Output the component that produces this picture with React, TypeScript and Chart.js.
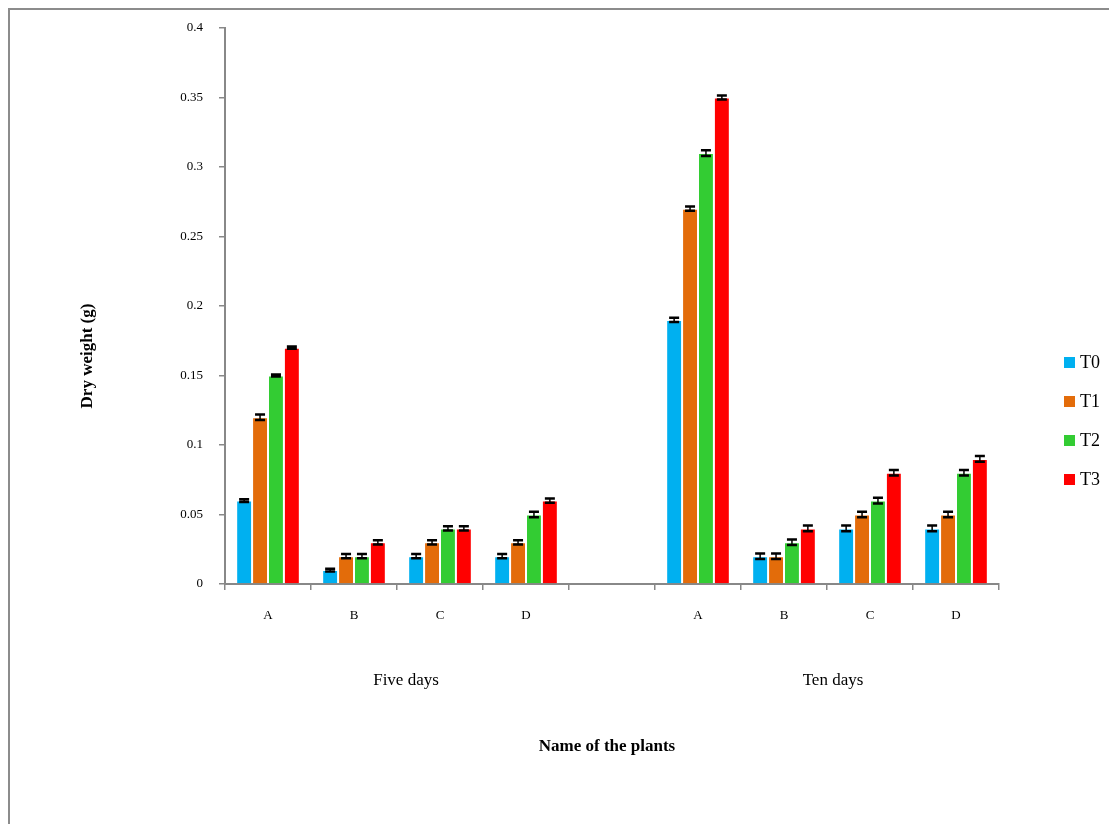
import React, { useEffect, useRef } from "react";
import { Chart, registerables } from "chart.js";
Chart.register(...registerables);

const categories = ["A", "B", "C", "D", "", "A", "B", "C", "D"];
const groupLabels = ["Five days", "Ten days"];
const seriesNames = ["T0", "T1", "T2", "T3"];
const seriesColors = ["#00B0F0", "#E36C0A", "#33CC33", "#FF0000"];
const t0 = [0.06, 0.01, 0.02, 0.02, null, 0.19, 0.02, 0.04, 0.04];
const t1 = [0.12, 0.02, 0.03, 0.03, null, 0.27, 0.02, 0.05, 0.05];
const t2 = [0.15, 0.02, 0.04, 0.05, null, 0.31, 0.03, 0.06, 0.08];
const t3 = [0.17, 0.03, 0.04, 0.06, null, 0.35, 0.04, 0.08, 0.09];
const e0 = [0.001, 0.001, 0.0015, 0.0015, null, 0.0015, 0.002, 0.002, 0.002];
const e1 = [0.002, 0.0015, 0.0015, 0.0015, null, 0.0015, 0.002, 0.002, 0.002];
const e2 = [0.0008, 0.0015, 0.0015, 0.002, null, 0.002, 0.002, 0.002, 0.002];
const e3 = [0.0008, 0.0015, 0.0015, 0.0015, null, 0.0015, 0.002, 0.002, 0.002];
const yMax = 0.4;
const yStep = 0.05;
const xTitle = "Name of the plants";
const yTitle = "Dry weight (g)";

const seriesValues = [t0, t1, t2, t3];
const seriesErrors = [e0, e1, e2, e3];
const FONT = "'Liberation Serif', 'Times New Roman', serif";

const overlayPlugin = {
  id: "overlay",
  afterDatasetsDraw(chart: any) {
    const ctx = chart.ctx;
    const ys = chart.scales.y;
    ctx.save();
    ctx.strokeStyle = "#000";
    seriesErrors.forEach((errs, di) => {
      const meta = chart.getDatasetMeta(di);
      meta.data.forEach((el: any, j: number) => {
        const v = seriesValues[di][j];
        const e = errs[j];
        if (v == null || e == null) return;
        const x = el.x;
        const yTop = ys.getPixelForValue(v + e);
        const yBot = ys.getPixelForValue(v - e);
        ctx.lineWidth = 1.5;
        ctx.beginPath();
        ctx.moveTo(x, yTop);
        ctx.lineTo(x, yBot);
        ctx.stroke();
        ctx.lineWidth = 2.5;
        ctx.beginPath();
        ctx.moveTo(x - 5, yTop);
        ctx.lineTo(x + 5, yTop);
        ctx.moveTo(x - 5, yBot);
        ctx.lineTo(x + 5, yBot);
        ctx.stroke();
      });
    });
    ctx.restore();
  },
  afterDraw(chart: any) {
    const ctx = chart.ctx;
    const xs = chart.scales.x;
    const area = chart.chartArea;
    ctx.save();
    ctx.fillStyle = "#000";
    ctx.textAlign = "center";
    ctx.textBaseline = "middle";
    ctx.font = `17px ${FONT}`;
    const g1 = (xs.getPixelForValue(0) + xs.getPixelForValue(3)) / 2 + 9;
    const g2 = (xs.getPixelForValue(5) + xs.getPixelForValue(8)) / 2 + 6;
    ctx.fillText(groupLabels[0], g1, area.bottom + 97);
    ctx.fillText(groupLabels[1], g2, area.bottom + 97);
    ctx.font = `bold 17px ${FONT}`;
    ctx.fillText(xTitle, (area.left + area.right) / 2 - 5, area.bottom + 163);
    ctx.save();
    ctx.translate(78, 346);
    ctx.rotate(-Math.PI / 2);
    ctx.fillText(yTitle, 0, 0);
    ctx.restore();
    // legend
    ctx.textAlign = "left";
    ctx.font = `18px ${FONT}`;
    seriesNames.forEach((n, i) => {
      const cy = 352 + i * 39;
      ctx.fillStyle = seriesColors[i];
      ctx.fillRect(1054, cy - 5, 11, 11);
      ctx.fillStyle = "#000";
      ctx.fillText(n, 1070, cy + 1);
    });
    ctx.restore();
  },
};

export default function App() {
  const ref = useRef<HTMLCanvasElement | null>(null);
  useEffect(() => {
    if (!ref.current) return;
    const chart = new Chart(ref.current, {
      type: "bar",
      data: {
        labels: categories,
        datasets: seriesNames.map((n, i) => ({
          label: n,
          data: seriesValues[i] as any,
          backgroundColor: seriesColors[i],
          borderColor: "rgba(255,255,255,0.6)",
          borderWidth: 1,
          categoryPercentage: 0.74,
          barPercentage: 1.0,
        })),
      },
      options: {
        responsive: false,
        animation: false,
        devicePixelRatio: 1,
        layout: { padding: { left: 165, right: 118, top: 18, bottom: 200 } },
        plugins: { legend: { display: false }, tooltip: { enabled: false } },
        scales: {
          x: {
            afterFit: (s: any) => {
              s.height = 40;
              s.paddingLeft = 0;
              s.paddingRight = 0;
            },
            grid: {
              offset: true,
              drawOnChartArea: false,
              drawTicks: true,
              tickLength: 6,
              color: "#888",
              lineWidth: 1.5,
            },
            border: { color: "#888", width: 2 },
            ticks: { color: "#000", font: { family: FONT, size: 13 }, padding: 18 },
          },
          y: {
            min: 0,
            max: yMax,
            afterFit: (s: any) => {
              s.width = 50;
              s.paddingTop = 0;
              s.paddingBottom = 0;
            },
            grid: {
              drawOnChartArea: false,
              drawTicks: true,
              tickLength: 6,
              color: "#888",
              lineWidth: 1.5,
            },
            border: { color: "#888", width: 2 },
            ticks: {
              stepSize: yStep,
              color: "#000",
              font: { family: FONT, size: 13 },
              padding: 16,
              callback: (v: any) => String(Number(Number(v).toFixed(2))),
            },
          },
        },
      },
      plugins: [overlayPlugin],
    });
    return () => chart.destroy();
  }, []);
  return (
    <div
      style={{
        width: 1109,
        height: 816,
        borderTop: "2px solid #8c8c8c",
        borderLeft: "2px solid #8c8c8c",
        boxSizing: "border-box",
        background: "#fff",
      }}
    >
      <canvas ref={ref} width={1107} height={814} style={{ display: "block" }} />
    </div>
  );
}
